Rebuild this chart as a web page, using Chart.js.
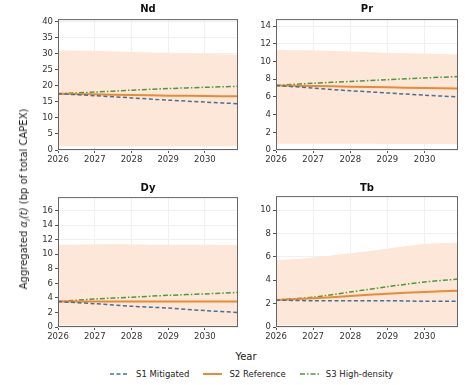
<!DOCTYPE html>
<html>
<head>
<meta charset="utf-8">
<script src="https://cdn.jsdelivr.net/npm/chart.js@4"></script>
<style>
  body { margin: 0; background: #fff; font-family: "DejaVu Sans", sans-serif; }
  #wrap { position: relative; width: 472px; height: 385px; overflow: hidden; }
  .panel { position: absolute; }
  .ttl { position: absolute; font-weight: bold; font-size: 10px; color: #111; transform: translate(-50%, -50%); }
  #ylab { position: absolute; left: 25px; top: 199px; font-size: 10px; color: #222; white-space: nowrap;
          transform: translate(-50%, -50%) rotate(-90deg); }
  #xlab { position: absolute; left: 246px; top: 356px; font-size: 10px; color: #222; transform: translate(-50%, -50%); }
  #legend { position: absolute; left: 110px; top: 369px; font-size: 8.5px; color: #222; display: flex; align-items: center; }
  #legend span { display: inline-flex; align-items: center; margin-right: 14px; }
  #legend svg { margin-right: 7px; }
</style>
</head>
<body>
<div id="wrap">
  <canvas id="cNd" class="panel"></canvas>
  <canvas id="cPr" class="panel"></canvas>
  <canvas id="cDy" class="panel"></canvas>
  <canvas id="cTb" class="panel"></canvas>
  <div class="ttl" style="left:148px; top:8px">Nd</div>
  <div class="ttl" style="left:367px; top:8px">Pr</div>
  <div class="ttl" style="left:148px; top:187px">Dy</div>
  <div class="ttl" style="left:367px; top:187px">Tb</div>
  <div id="ylab">Aggregated <i>α<sub style="font-size:7px">i</sub>(t)</i> (bp of total CAPEX)</div>
  <div id="xlab">Year</div>
  <div id="legend">
    <span><svg width="19" height="6"><line x1="0" y1="3" x2="19" y2="3" stroke="#44709a" stroke-width="1.5" stroke-dasharray="4,2.5"/></svg>S1 Mitigated</span>
    <span><svg width="19" height="6"><line x1="0" y1="3" x2="19" y2="3" stroke="#ec8a33" stroke-width="2"/></svg>S2 Reference</span>
    <span><svg width="19" height="6"><line x1="0" y1="3" x2="19" y2="3" stroke="#4a9a3c" stroke-width="1.5" stroke-dasharray="5,2,1.5,2"/></svg>S3 High-density</span>
  </div>
</div>
<script>
const years = [2026, 2027, 2028, 2029, 2030, 2030.9];

const ndS1 = [17.5, 16.9, 16.2, 15.5, 14.9, 14.4];
const ndS2 = [17.5, 17.3, 17.1, 16.9, 16.8, 16.7];
const ndS3 = [17.5, 18.0, 18.6, 19.1, 19.5, 19.8];
const ndLo = [1.2, 1.2, 1.2, 1.2, 1.2, 1.2];
const ndHi = [31.0, 30.8, 30.5, 30.2, 29.9, 29.6];

const prS1 = [7.3, 7.0, 6.7, 6.45, 6.2, 6.0];
const prS2 = [7.3, 7.25, 7.15, 7.1, 7.0, 6.95];
const prS3 = [7.3, 7.55, 7.75, 7.95, 8.15, 8.3];
const prLo = [0.7, 0.7, 0.7, 0.65, 0.65, 0.65];
const prHi = [11.3, 11.25, 11.15, 11.0, 10.9, 10.8];

const dyS1 = [3.5, 3.2, 2.85, 2.6, 2.25, 2.0];
const dyS2 = [3.5, 3.5, 3.5, 3.5, 3.5, 3.5];
const dyS3 = [3.5, 3.85, 4.1, 4.35, 4.55, 4.75];
const dyLo = [0.2, 0.2, 0.2, 0.2, 0.2, 0.2];
const dyHi = [11.3, 11.35, 11.35, 11.3, 11.3, 11.25];

const tbS1 = [2.3, 2.25, 2.25, 2.25, 2.2, 2.2];
const tbS2 = [2.3, 2.45, 2.65, 2.85, 3.0, 3.1];
const tbS3 = [2.3, 2.55, 3.0, 3.45, 3.85, 4.1];
const tbLo = [0.15, 0.15, 0.15, 0.15, 0.15, 0.15];
const tbHi = [5.7, 5.95, 6.3, 6.7, 7.1, 7.2];

const xTicks = [2026, 2027, 2028, 2029, 2030];

function pts(vals) {
    return years.map((y, i) => ({ x: y, y: vals[i] }));
}

// box round the plot area, like the matplotlib frame
const frame = {
    id: 'frame',
    afterDraw(chart) {
        const a = chart.chartArea;
        const c = chart.ctx;
        c.save();
        c.strokeStyle = '#666';
        c.lineWidth = 1;
        c.strokeRect(a.left + 0.5, a.top + 0.5, a.right - a.left - 1, a.bottom - a.top - 1);
        c.restore();
    }
};

function makePanel(id, left, top, width, height, s1, s2, s3, lo, hi, yMax, yStep) {
    const el = document.getElementById(id);
    el.style.left = left + 'px';
    el.style.top = top + 'px';
    el.style.width = width + 'px';
    el.style.height = height + 'px';
    return new Chart(el.getContext('2d'), {
        type: 'line',
        data: {
            datasets: [
                { label: 'S1 Mitigated', data: pts(s1), borderColor: '#44709a', borderWidth: 1.5, borderDash: [4, 2.5], pointRadius: 0, tension: 0.3, fill: false },
                { label: 'S2 Reference', data: pts(s2), borderColor: '#ec8a33', borderWidth: 2, pointRadius: 0, tension: 0.3, fill: false },
                { label: 'S3 High-density', data: pts(s3), borderColor: '#4a9a3c', borderWidth: 1.5, borderDash: [5, 2, 1.5, 2], pointRadius: 0, tension: 0.3, fill: false },
                { label: 'lo', data: pts(lo), borderWidth: 0, borderColor: 'rgba(0,0,0,0)', pointRadius: 0, tension: 0.3, fill: false },
                { label: 'hi', data: pts(hi), borderWidth: 0, borderColor: 'rgba(0,0,0,0)', backgroundColor: '#fce7d8', pointRadius: 0, tension: 0.3, fill: '-1' }
            ]
        },
        options: {
            responsive: false,
            animation: false,
            events: [],
            layout: { padding: { top: 0, right: 4, bottom: 0, left: 0 } },
            plugins: { legend: { display: false }, tooltip: { enabled: false } },
            scales: {
                x: {
                    type: 'linear',
                    min: 2026,
                    max: 2030.9,
                    afterBuildTicks: s => { s.ticks = xTicks.map(v => ({ value: v })); },
                    afterFit: s => { s.height = 20; },
                    grid: { color: '#f0f0f0', tickColor: '#555', tickLength: 3 },
                    border: { display: false },
                    ticks: { font: { family: 'DejaVu Sans', size: 8.5 }, color: '#333', padding: 2, maxRotation: 0, callback: v => String(v) }
                },
                y: {
                    min: 0,
                    max: yMax,
                    afterBuildTicks: s => {
                        const t = [];
                        for (let v = 0; v <= yMax + 1e-9; v += yStep) t.push({ value: v });
                        s.ticks = t;
                    },
                    afterFit: s => { s.width = 30; },
                    grid: { color: '#f0f0f0', tickColor: '#555', tickLength: 3 },
                    border: { display: false },
                    ticks: { font: { family: 'DejaVu Sans', size: 8.5 }, color: '#333', padding: 2, callback: v => String(v) }
                }
            }
        },
        plugins: [frame]
    });
}

makePanel('cNd', 28, 12, 214, 158, ndS1, ndS2, ndS3, ndLo, ndHi, 40.7, 5);
makePanel('cPr', 246, 12, 216, 158, prS1, prS2, prS3, prLo, prHi, 14.8, 2);
makePanel('cDy', 28, 190, 214, 157, dyS1, dyS2, dyS3, dyLo, dyHi, 17.85, 2);
makePanel('cTb', 246, 189, 216, 158, tbS1, tbS2, tbS3, tbLo, tbHi, 11.2, 2);
</script>
</body>
</html>
